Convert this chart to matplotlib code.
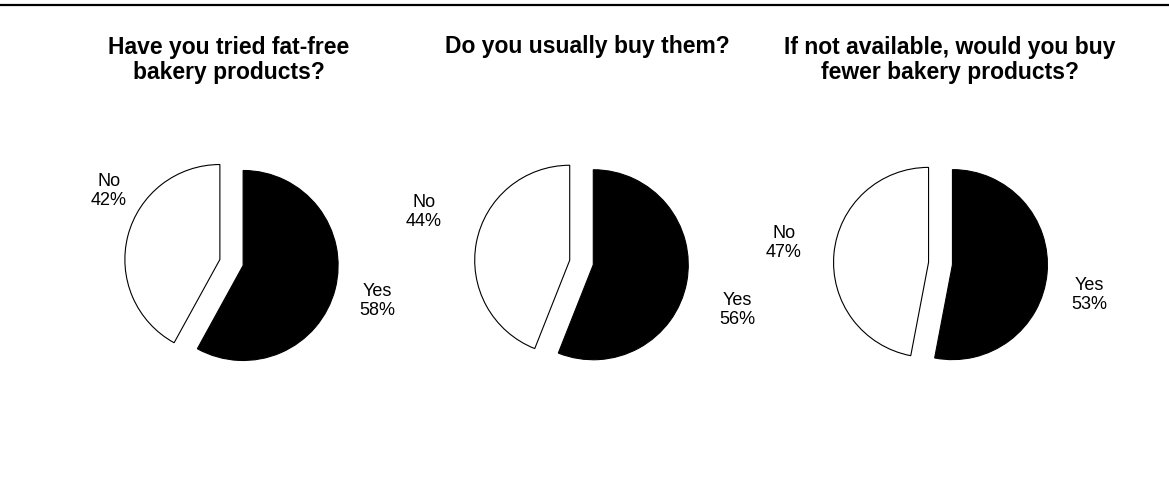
import matplotlib
matplotlib.use("Agg")
import matplotlib.pyplot as plt

# Survey answers (percent of respondents)
questions = [
    "Have you tried fat-free\nbakery products?",
    "Do you usually buy them?",
    "If not available, would you buy\nfewer bakery products?",
]
answers = ["Yes", "No"]
yes_pct = [58, 56, 53]
no_pct = [42, 44, 47]

# Layout in pixels (origin bottom-left)
W, H = 1169, 490
centers = [(231.5, 227.5), (581.5, 227.5), (940.5, 226.5)]
radius = 95
explode_px = 12
yes_label_pos = [(377, 189), (737, 180), (1089, 195)]
no_label_pos = [(109, 299), (424, 278), (784, 247)]
title_pos = [(229, 430), (587, 443), (950, 430)]

plt.rcParams["font.family"] = ["Liberation Sans", "DejaVu Sans"]

fig = plt.figure(figsize=(W / 100, H / 100), dpi=100)
ax = fig.add_axes([0, 0, 1, 1])

for i, q in enumerate(questions):
    ax.pie(
        [yes_pct[i], no_pct[i]],
        center=centers[i],
        radius=radius,
        startangle=90,
        counterclock=False,
        explode=[explode_px, explode_px],
        colors=["black", "white"],
        wedgeprops=dict(edgecolor="black", linewidth=0.8),
    )
    ax.text(*yes_label_pos[i], f"{answers[0]}\n{yes_pct[i]}%",
            ha="center", va="center", fontsize=13, linespacing=1.1)
    ax.text(*no_label_pos[i], f"{answers[1]}\n{no_pct[i]}%",
            ha="center", va="center", fontsize=13, linespacing=1.1)
    ax.text(*title_pos[i], q, ha="center", va="center",
            fontsize=16.5, fontweight="bold", linespacing=1.15)

# Rule along the top edge
ax.axhline(H - 5, color="black", linewidth=1.6)

ax.set_xlim(0, W)
ax.set_ylim(0, H)
ax.set_aspect("auto")
ax.axis("off")

fig.savefig("out.png", dpi=100, facecolor="white")
